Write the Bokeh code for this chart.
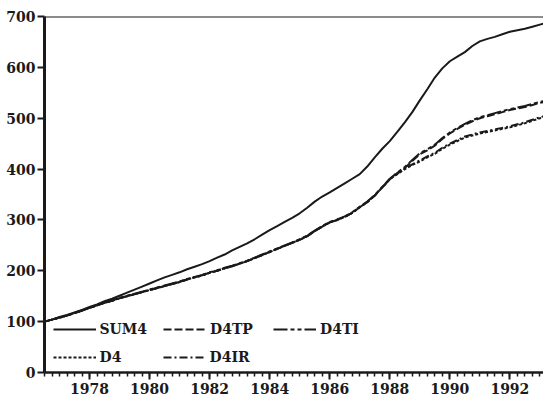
from bokeh.plotting import figure
from bokeh.models import Range1d, Legend, LegendItem, Span, FixedTicker
from bokeh.embed import file_html
from bokeh.resources import INLINE

# quarterly time axis (decimal years)
years = [1976.5, 1976.75, 1977.0, 1977.25, 1977.5, 1977.75, 1978.0, 1978.25, 1978.5, 1978.75,
         1979.0, 1979.25, 1979.5, 1979.75, 1980.0, 1980.25, 1980.5, 1980.75, 1981.0, 1981.25,
         1981.5, 1981.75, 1982.0, 1982.25, 1982.5, 1982.75, 1983.0, 1983.25, 1983.5, 1983.75,
         1984.0, 1984.25, 1984.5, 1984.75, 1985.0, 1985.25, 1985.5, 1985.75, 1986.0, 1986.25,
         1986.5, 1986.75, 1987.0, 1987.25, 1987.5, 1987.75, 1988.0, 1988.25, 1988.5, 1988.75,
         1989.0, 1989.25, 1989.5, 1989.75, 1990.0, 1990.25, 1990.5, 1990.75, 1991.0, 1991.25,
         1991.5, 1991.75, 1992.0, 1992.25, 1992.5, 1992.75, 1993.0, 1993.25]

sum4 = [100, 104, 109, 113, 118, 123, 129, 134, 140, 145,
        151, 157, 163, 169, 175, 181, 187, 192, 197, 203,
        208, 213, 219, 226, 232, 240, 247, 254, 262, 271,
        280, 288, 296, 304, 313, 324, 336, 346, 354, 363,
        372, 381, 390, 405, 423, 440, 455, 473, 492, 512,
        535, 557, 580, 598, 612, 621, 630, 642, 651, 656,
        660, 665, 670, 673, 676, 680, 684, 688]

d4tp = [100, 104, 108, 112, 117, 122, 127, 132, 137, 141,
        146, 150, 154, 158, 162, 166, 170, 174, 178, 183,
        187, 191, 196, 200, 205, 209, 214, 219, 225, 231,
        237, 243, 249, 255, 261, 268, 278, 287, 295, 300,
        306, 314, 325, 335, 348, 364, 380, 392, 402, 416,
        429, 437, 446, 459, 470, 479, 487, 494, 500, 504,
        508, 512, 516, 519, 522, 526, 530, 533]

d4ti = [100, 104, 108, 112, 117, 122, 127, 132, 137, 142,
        147, 151, 155, 159, 163, 167, 171, 175, 179, 184,
        188, 192, 197, 201, 206, 210, 215, 220, 226, 232,
        238, 244, 250, 256, 262, 269, 279, 288, 296, 301,
        307, 315, 326, 336, 349, 365, 381, 393, 404, 418,
        431, 439, 448, 461, 472, 481, 489, 496, 502, 506,
        510, 514, 518, 521, 524, 528, 532, 535]

d4 = [100, 104, 108, 112, 117, 122, 127, 132, 137, 141,
      146, 150, 154, 158, 162, 166, 170, 174, 178, 183,
      187, 191, 196, 200, 205, 209, 214, 219, 225, 231,
      237, 243, 249, 255, 261, 268, 278, 287, 295, 300,
      306, 314, 325, 335, 348, 364, 380, 390, 400, 408,
      415, 423, 430, 440, 448, 455, 462, 466, 470, 473,
      476, 479, 482, 486, 490, 495, 500, 503]

d4ir = [100, 104, 108, 112, 117, 122, 127, 132, 137, 141,
        146, 150, 154, 158, 162, 166, 170, 174, 178, 183,
        187, 191, 196, 200, 205, 209, 214, 219, 225, 231,
        237, 243, 249, 255, 261, 268, 278, 287, 295, 300,
        306, 314, 325, 335, 348, 364, 380, 391, 401, 409,
        417, 425, 432, 442, 450, 457, 464, 468, 472, 475,
        478, 481, 484, 488, 492, 497, 502, 505]

x_ticks = [1978, 1980, 1982, 1984, 1986, 1988, 1990, 1992]
y_ticks = [0, 100, 200, 300, 400, 500, 600, 700]

FONT = "DejaVu Serif"

p = figure(width=543, height=401, output_backend="svg", toolbar_location=None,
           x_range=Range1d(1976.5, 1993.12), y_range=Range1d(0, 700),
           min_border_left=44, min_border_right=0, min_border_top=16, min_border_bottom=29)
p.outline_line_color = None
p.xgrid.visible = False
p.ygrid.visible = False
p.background_fill_color = "white"
p.border_fill_color = "white"

p.xaxis.ticker = FixedTicker(ticks=x_ticks, minor_ticks=[1976.5 + 0.25 * i for i in range(68)])
p.yaxis.ticker = FixedTicker(ticks=y_ticks, minor_ticks=[])
for ax in (p.xaxis[0], p.yaxis[0]):
    ax.axis_line_color = "#1a1a1a"
    ax.major_tick_line_color = "#1a1a1a"
    ax.minor_tick_line_color = "#1a1a1a"
    ax.major_label_text_font = FONT
    ax.major_label_text_font_style = "bold"
    ax.major_label_text_font_size = "14px"
    ax.major_label_text_color = "#1a1a1a"
    ax.major_tick_in = 0
    ax.minor_tick_in = 0
p.xaxis.axis_line_width = 2.5
p.yaxis.axis_line_width = 3
p.xaxis.major_tick_out = 7
p.xaxis.minor_tick_out = 4
p.xaxis.major_tick_line_width = 2
p.xaxis.minor_tick_line_width = 1.5
p.yaxis.major_tick_out = 7
p.yaxis.major_tick_line_width = 2
p.yaxis.major_label_standoff = 2
p.xaxis.major_label_standoff = 3

top = Span(location=700, dimension="width", line_color="#1a1a1a", line_width=2)
p.add_layout(top)

lw = 2
r_sum4 = p.line(years, sum4, line_color="#1a1a1a", line_width=lw)
r_d4tp = p.line(years, d4tp, line_color="#1a1a1a", line_width=lw, line_dash="8 3")
r_d4ti = p.line(years, d4ti, line_color="#1a1a1a", line_width=lw, line_dash="14 3 4 3 4 3")
r_d4 = p.line(years, d4, line_color="#1a1a1a", line_width=lw, line_dash="3 2")
r_d4ir = p.line(years, d4ir, line_color="#1a1a1a", line_width=lw, line_dash="8 3 2 3")

def make_legend(items, loc):
    return Legend(items=items, location=loc, orientation="horizontal",
                  glyph_width=43, glyph_height=14, label_standoff=4, label_width=47,
                  spacing=16, padding=0, margin=0, border_line_color=None,
                  background_fill_alpha=0,
                  label_text_font=FONT, label_text_font_style="bold",
                  label_text_font_size="14px", label_text_color="#1a1a1a")

leg1 = make_legend([LegendItem(label="SUM4", renderers=[r_sum4]),
                    LegendItem(label="D4TP", renderers=[r_d4tp]),
                    LegendItem(label="D4TI", renderers=[r_d4ti])], (8.5, 35))
leg2 = make_legend([LegendItem(label="D4", renderers=[r_d4]),
                    LegendItem(label="D4IR", renderers=[r_d4ir])], (8.5, 7))
p.add_layout(leg1)
p.add_layout(leg2)

open("out.html", "w").write(file_html(p, INLINE))
